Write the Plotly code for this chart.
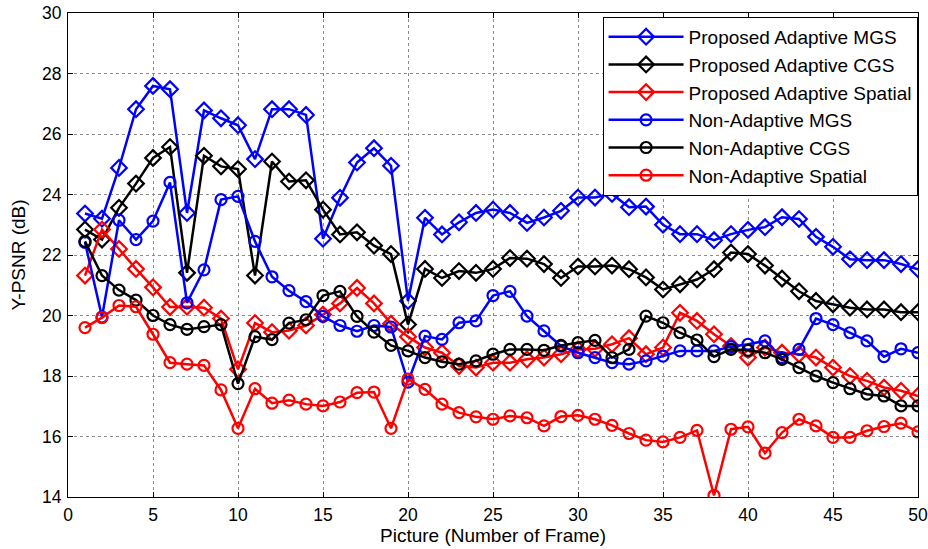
import plotly.graph_objects as go

frames = list(range(1, 51))

pa_mgs = [23.37, 23.20, 24.88, 26.82, 27.59, 27.48, 23.39, 26.78, 26.52, 26.29,
          25.17, 26.82, 26.82, 26.63, 22.54, 23.89, 25.06, 25.53, 24.95, 20.48,
          23.23, 22.68, 23.08, 23.39, 23.50, 23.39, 23.06, 23.24, 23.46, 23.90,
          23.90, 24.02, 23.58, 23.60, 23.00, 22.69, 22.69, 22.49, 22.69, 22.83,
          22.92, 23.25, 23.19, 22.60, 22.27, 21.86, 21.83, 21.83, 21.70, 21.53]

pa_cgs = [22.84, 22.51, 23.56, 24.36, 25.21, 25.57, 21.41, 25.28, 24.93, 24.84,
          21.32, 25.09, 24.43, 24.47, 23.50, 22.68, 22.75, 22.31, 22.03, 19.70,
          21.54, 21.24, 21.47, 21.41, 21.54, 21.90, 21.88, 21.70, 21.24, 21.62,
          21.62, 21.65, 21.53, 21.26, 20.86, 21.03, 21.19, 21.53, 22.08, 22.03,
          21.65, 21.22, 20.80, 20.48, 20.37, 20.26, 20.20, 20.20, 20.11, 20.11]

pa_spatial = [21.32, 22.84, 22.20, 21.54, 20.93, 20.28, 20.29, 20.26, 19.90, 18.22,
              19.75, 19.45, 19.50, 19.67, 20.03, 20.40, 20.91, 20.40, 19.73, 19.30,
              18.94, 18.77, 18.33, 18.28, 18.44, 18.44, 18.55, 18.61, 18.72, 18.88,
              18.90, 19.05, 19.25, 18.72, 18.94, 20.09, 19.82, 19.38, 18.99, 18.61,
              18.94, 18.77, 18.72, 18.61, 18.28, 18.00, 17.84, 17.62, 17.51, 17.34]

na_mgs = [22.42, 19.95, 23.15, 22.51, 23.12, 24.40, 20.42, 21.51, 23.83, 23.94,
          22.45, 21.28, 20.82, 20.46, 19.97, 19.67, 19.48, 19.67, 19.62, 17.80,
          19.32, 19.21, 19.76, 19.82, 20.66, 20.80, 19.98, 19.49, 18.99, 18.77,
          18.61, 18.44, 18.39, 18.50, 18.66, 18.83, 18.83, 18.83, 18.97, 19.05,
          19.16, 18.61, 18.88, 19.90, 19.70, 19.43, 19.16, 18.64, 18.90, 18.77]

na_cgs = [22.45, 21.32, 20.84, 20.51, 20.00, 19.70, 19.54, 19.63, 19.70, 17.75,
          19.30, 19.20, 19.75, 19.86, 20.66, 20.80, 19.97, 19.45, 19.01, 18.83,
          18.61, 18.47, 18.39, 18.50, 18.72, 18.88, 18.88, 18.85, 19.01, 19.10,
          19.18, 18.61, 18.88, 19.98, 19.76, 19.43, 19.19, 18.64, 18.88, 18.85,
          18.77, 18.55, 18.28, 18.00, 17.78, 17.58, 17.40, 17.34, 17.01, 17.01]

na_spatial = [19.60, 19.93, 20.33, 20.29, 19.38, 18.44, 18.39, 18.35, 17.54, 16.27,
              17.58, 17.10, 17.20, 17.07, 17.01, 17.14, 17.45, 17.47, 16.27, 17.90,
              17.56, 17.07, 16.79, 16.65, 16.57, 16.68, 16.62, 16.35, 16.66, 16.70,
              16.57, 16.37, 16.10, 15.88, 15.82, 15.97, 16.20, 14.05, 16.24, 16.32,
              15.45, 16.13, 16.57, 16.35, 15.97, 15.97, 16.19, 16.33, 16.44, 16.15]

series_names = ["Proposed Adaptive MGS", "Proposed Adaptive CGS", "Proposed Adaptive Spatial",
                "Non-Adaptive MGS", "Non-Adaptive CGS", "Non-Adaptive Spatial"]
series_values = [pa_mgs, pa_cgs, pa_spatial, na_mgs, na_cgs, na_spatial]
series_colors = ["#0000ff", "#000000", "#ff0000", "#0000ff", "#000000", "#ff0000"]
series_symbols = ["diamond-open", "diamond-open", "diamond-open",
                  "circle-open", "circle-open", "circle-open"]

x_ticks = list(range(0, 51, 5))
y_ticks = list(range(14, 31, 2))

FONT = "Arial, Liberation Sans, sans-serif"

fig = go.Figure()
for i, (name, vals, col, sym) in enumerate(zip(series_names, series_values,
                                               series_colors, series_symbols)):
    fig.add_trace(go.Scatter(
        x=frames, y=vals, name=name, mode="lines+markers",
        legendgroup=f"g{i}",
        line=dict(color=col, width=2.5),
        marker=dict(symbol=sym, color=col, size=12 if "diamond" in sym else 11,
                    line=dict(color=col, width=2.2)),
    ))

axis_common = dict(
    showline=True, linecolor="black", linewidth=1.2, mirror="ticks",
    ticks="inside", ticklen=5, tickcolor="black", tickwidth=1,
    showgrid=True, gridcolor="#8c8c8c", griddash="dot", gridwidth=1,
    zeroline=False, automargin=False, ticklabeloverflow="allow",
    tickfont=dict(family=FONT, size=17.5, color="black"),
)

fig.update_layout(
    width=928, height=549,
    margin=dict(l=68, r=10, t=13, b=52, autoexpand=False),
    paper_bgcolor="white", plot_bgcolor="white",
    font=dict(family=FONT, color="black"),
    xaxis=dict(range=[0, 50], tickvals=x_ticks, ticklabelstandoff=2,
               title=dict(text="Picture (Number of Frame)", font=dict(family=FONT, size=19),
                          standoff=2),
               **axis_common),
    yaxis=dict(range=[14, 30], tickvals=y_ticks, ticklabelstandoff=2,
               title=dict(text="Y-PSNR (dB)", font=dict(family=FONT, size=19), standoff=11),
               **axis_common),
    legend=dict(x=0.9995, y=0.992, xanchor="right", yanchor="top",
                bgcolor="white", bordercolor="black", borderwidth=1,
                font=dict(family=FONT, size=19, color="black"),
                tracegroupgap=0, itemwidth=75),
    showlegend=True,
)

# remove the browser's default 8px body margin so the figure fills the window exactly
fig.write_html("out.html",
               config={"displayModeBar": False},
               post_script="document.body.style.margin='0';document.body.style.overflow='hidden';")
